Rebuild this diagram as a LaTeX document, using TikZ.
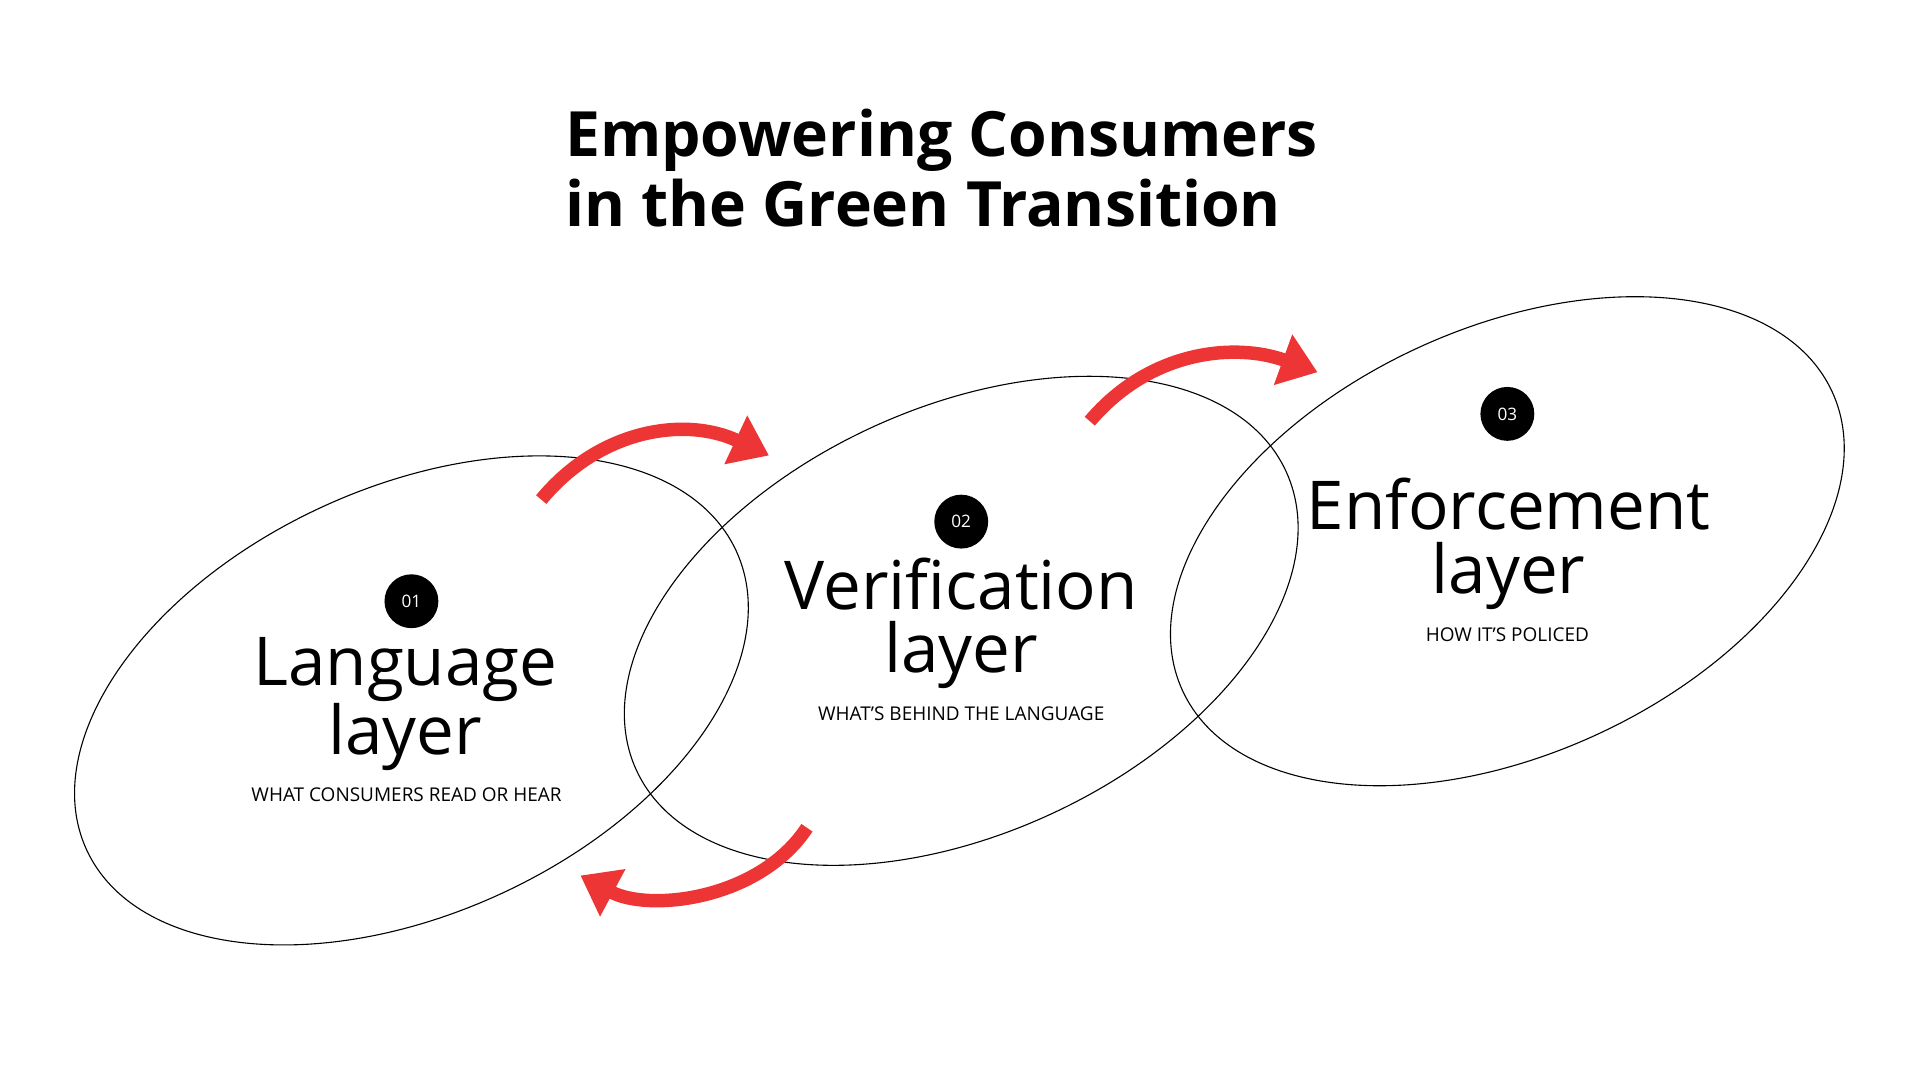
\documentclass[tikz,border=0pt]{standalone}
\usepackage{fontspec}
\setmainfont{Open Sans}
\usetikzlibrary{arrows.meta}
\definecolor{ared}{HTML}{EE3535}
\tikzset{
  num/.style={circle, fill=black, text=white, minimum size=44pt, inner sep=0pt, font=\fontsize{14}{14}\selectfont},
  big/.style={align=center, font=\fontsize{55}{52}\selectfont},
  sub/.style={font=\fontsize{15.5}{15}\selectfont},
  ring/.style={line width=0.9pt},
  rarrow/.style={draw=ared, line width=11pt, -{Triangle[length=30pt,width=42pt]}}
}
\begin{document}
\begin{tikzpicture}[x=1pt,y=-1pt]
\useasboundingbox (0,0) rectangle (1568,882);
\draw[ring, rotate around={24.7:(336,572)}] (336,572) ellipse [x radius=292, y radius=174];
\draw[ring, rotate around={24.7:(785,507)}] (785,507) ellipse [x radius=292, y radius=174];
\draw[ring, rotate around={24.7:(1231,442)}] (1231,442) ellipse [x radius=292, y radius=174];

\node[anchor=west, align=left, font=\bfseries\fontsize{51}{57}\selectfont] (title) at (458,137) {Empowering Consumers\\in the Green Transition};

\node[num] (n1) at (336,491) {01};
\node[num] (n2) at (785,426) {02};
\node[num] (n3) at (1231,338) {03};

\node[big] (t1) at (331,575) {Language\\layer};
\node[big] (t2) at (785,509) {Verification\\layer};
\node[big] (t3) at (1232,444) {Enforcement\\layer};

\node[sub] (s1) at (332,649) {WHAT CONSUMERS READ OR HEAR};
\node[sub] (s2) at (785,583) {WHAT’S BEHIND THE LANGUAGE};
\node[sub] (s3) at (1231,518) {HOW IT’S POLICED};

\coordinate (a1s) at (442,408); \coordinate (a1e) at (628,372);
\coordinate (a2s) at (890,344); \coordinate (a2e) at (1076,304);
\coordinate (a3s) at (659,676); \coordinate (a3e) at (474,715);
\draw[rarrow] (a1s) .. controls (490,350) and (560,340) .. (a1e);
\draw[rarrow] (a2s) .. controls (940,285) and (1010,280) .. (a2e);
\draw[rarrow] (a3s) .. controls (620,735) and (530,745) .. (a3e);
\end{tikzpicture}
\end{document}
